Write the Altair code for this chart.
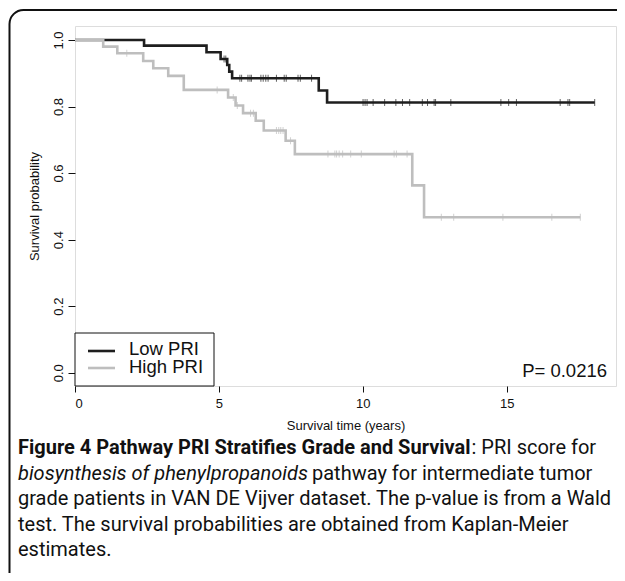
import altair as alt
import pandas as pd

# ---------------- data ----------------
groups = ["Low PRI", "High PRI"]
colors = ["#1e1e1e", "#bebebe"]

# Low PRI: event times (years) and Kaplan-Meier survival after each event
low_event_t = [2.40, 4.57, 5.06, 5.29, 5.36, 5.46, 8.47, 8.76]
low_event_s = [0.983, 0.963, 0.943, 0.925, 0.905, 0.885, 0.848, 0.812]
low_end_t = 18.06
low_cens_t = [5.18, 5.24, 5.73, 5.79, 6.01, 6.08, 6.13, 6.46, 6.54, 6.63, 6.71,
              7.00, 7.27, 7.34, 7.75, 7.83, 8.22, 10.01, 10.08, 10.15, 10.36,
              10.76, 11.15, 11.38, 11.63, 12.07, 12.25, 12.48, 12.53, 13.06,
              14.80, 15.07, 15.34, 16.86, 17.13, 17.19, 18.06]

# High PRI
high_event_t = [0.98, 1.47, 2.37, 2.72, 3.24, 3.78, 5.32, 5.58, 5.84, 6.28,
                6.56, 7.32, 7.64, 11.72, 12.13]
high_event_s = [0.980, 0.960, 0.937, 0.915, 0.892, 0.850, 0.827, 0.803, 0.780,
                0.757, 0.728, 0.697, 0.657, 0.563, 0.467]
high_end_t = 17.56
high_cens_t = [1.80, 4.94, 5.50, 5.64, 6.10, 6.20, 7.00, 7.08, 7.15, 7.23, 7.49,
               8.79, 9.03, 9.09, 9.18, 9.30, 9.58, 9.95, 11.09, 11.17, 11.54,
               12.73, 13.16, 14.87, 16.57, 17.56]

x_ticks = [0, 5, 10, 15]
y_ticks = [0.0, 0.2, 0.4, 0.6, 0.8, 1.0]
p_text = "P= 0.0216"
x_title = "Survival time (years)"
y_title = "Survival probability"

caption_bold = "Figure 4 Pathway PRI Stratifies Grade and Survival"
caption_l1_rest = ": PRI score for"
caption_l2_italic = "biosynthesis of phenylpropanoids"
caption_l2_rest = "pathway for intermediate tumor"
caption_l3 = "grade patients in VAN DE Vijver dataset. The p-value is from a Wald"
caption_l4 = "test. The survival probabilities are obtained from Kaplan-Meier"
caption_l5 = "estimates."


# ---------------- build tables ----------------
def curve(name, et, es, end_t):
    rows = [{"group": name, "t": 0.0, "s": 1.0}]
    rows += [{"group": name, "t": t, "s": s} for t, s in zip(et, es)]
    rows.append({"group": name, "t": end_t, "s": es[-1]})
    return pd.DataFrame(rows)


def km_at(t, et, es):
    s = 1.0
    for tt, ss in zip(et, es):
        if tt <= t:
            s = ss
    return s


def censor(name, ct, et, es):
    return pd.DataFrame({"group": name, "t": ct, "s": [km_at(t, et, es) for t in ct]})


low_curve = curve(groups[0], low_event_t, low_event_s, low_end_t)
high_curve = curve(groups[1], high_event_t, high_event_s, high_end_t)
low_cens = censor(groups[0], low_cens_t, low_event_t, low_event_s)
high_cens = censor(groups[1], high_cens_t, high_event_t, high_event_s)

FONT = "Liberation Sans"
CAP_FONT = "Roboto"

xscale = alt.Scale(domain=[0, 18.8], nice=False, zero=False)
yscale = alt.Scale(domain=[-0.04, 1.042], nice=False, zero=False)
cscale = alt.Scale(domain=groups, range=colors)

xenc = alt.X("t:Q", scale=xscale, axis=alt.Axis(
    values=x_ticks, title=x_title, grid=False, domain=False,
    tickSize=6, tickColor="#111", labelColor="#111", labelFont=FONT,
    labelFontSize=13, labelPadding=5, titleFont=FONT, titleFontSize=13,
    titleFontWeight="normal", titleColor="#111", titleY=43,
    titleBaseline="alphabetic"))
yenc = alt.Y("s:Q", scale=yscale, axis=alt.Axis(
    values=y_ticks, format=".1f", title=y_title, grid=False, domain=False,
    tickSize=7, tickColor="#111", labelColor="#111", labelFont=FONT,
    labelFontSize=13, labelAngle=270, labelAlign="center",
    labelBaseline="alphabetic", labelPadding=6, titleFont=FONT,
    titleFontSize=13, titleFontWeight="normal", titleColor="#111",
    titleAngle=270, titleX=-36.5, titleY=180, titleAlign="center",
    titleBaseline="alphabetic"))
cenc = alt.Color("group:N", scale=cscale, legend=None)


def line_layer(df):
    return alt.Chart(df).mark_line(interpolate="step-after", strokeWidth=2.6).encode(
        x=xenc, y=yenc, color=cenc)


def tick_layer(df):
    return alt.Chart(df).mark_tick(orient="vertical", size=7, thickness=1).encode(
        x=xenc, y=yenc, color=cenc)


one = pd.DataFrame({"k": [0]})

frame = alt.Chart(one).mark_rect(
    fillOpacity=0, stroke="#111", strokeWidth=2, cornerRadius=14
).encode(x=alt.value(-65.5), x2=alt.value(620), y=alt.value(-16), y2=alt.value(640))

legend_box = alt.Chart(one).mark_rect(
    fill="white", stroke="#111", strokeWidth=1
).encode(x=alt.value(0), x2=alt.value(139), y=alt.value(307), y2=alt.value(360))

legend_low = alt.Chart(one).mark_rule(color=colors[0], strokeWidth=2.6).encode(
    x=alt.value(13), x2=alt.value(40), y=alt.value(325))
legend_high = alt.Chart(one).mark_rule(color=colors[1], strokeWidth=2.6).encode(
    x=alt.value(13), x2=alt.value(40), y=alt.value(342))


def txt(s, x, y, size, font=FONT, weight="normal", style="normal", align="left"):
    return alt.Chart(one).mark_text(
        text=s, font=font, fontSize=size, fontWeight=weight, fontStyle=style,
        align=align, baseline="alphabetic", color="#111"
    ).encode(x=alt.value(x), y=alt.value(y))


legend_t1 = txt(groups[0], 54, 329, 18.5)
legend_t2 = txt(groups[1], 54, 347, 18.5)
ptxt = txt(p_text, 532, 351, 18.5, align="right")

CS = 20
cap1a = txt(caption_bold, -57, 428, CS, font=CAP_FONT, weight="bold")
cap1b = txt(caption_l1_rest, 396.5, 428, CS, font=CAP_FONT)
cap2a = txt(caption_l2_italic, -57, 453.5, CS, font=CAP_FONT, style="italic")
cap2b = txt(caption_l2_rest, 237, 453.5, CS, font=CAP_FONT)
cap3 = txt(caption_l3, -57, 479, CS, font=CAP_FONT)
cap4 = txt(caption_l4, -57, 504.5, CS, font=CAP_FONT)
cap5 = txt(caption_l5, -57, 530, CS, font=CAP_FONT)

chart = alt.layer(
    frame,
    line_layer(low_curve), tick_layer(low_cens),
    line_layer(high_curve), tick_layer(high_cens),
    legend_box, legend_low, legend_high, legend_t1, legend_t2, ptxt,
    cap1a, cap1b, cap2a, cap2b, cap3, cap4, cap5,
).properties(
    width=541, height=360,
    autosize=alt.AutoSizeParams(type="none"),
    padding={"left": 67, "top": 18, "right": 1, "bottom": 187},
).configure_view(
    stroke="#222", strokeWidth=1
).configure(
    background="white", font=FONT
)

chart.save("out.html", embed_options={"renderer": "svg", "actions": False})
